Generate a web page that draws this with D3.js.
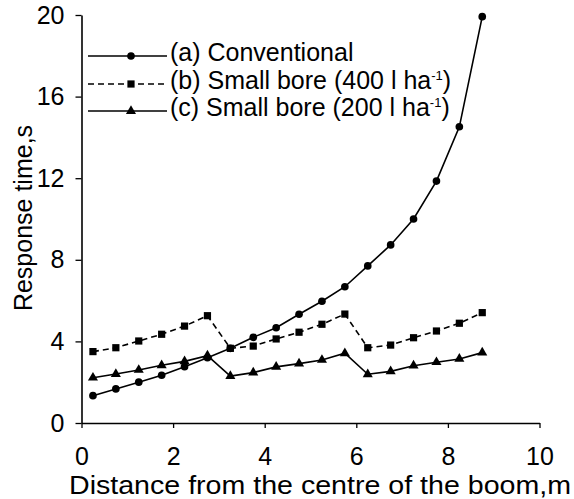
<!DOCTYPE html>
<html>
<head>
<meta charset="utf-8">
<script src="https://cdn.jsdelivr.net/npm/d3@7"></script>
<style>
  html, body { margin: 0; padding: 0; background: #fff; }
  svg { display: block; }
  text { font-family: "Liberation Sans", Arial, Helvetica, sans-serif; fill: #000; }
</style>
</head>
<body>
<svg id="chart" width="574" height="499"></svg>
<script>
// ---- data ----
const distances = [0.25, 0.75, 1.25, 1.75, 2.25, 2.75, 3.25, 3.75, 4.25, 4.75, 5.25, 5.75, 6.25, 6.75, 7.25, 7.75, 8.25, 8.75];
const conventional = [1.34, 1.67, 2.0, 2.34, 2.76, 3.2, 3.66, 4.2, 4.67, 5.33, 5.97, 6.68, 7.70, 8.73, 10.0, 11.86, 14.52, 19.92];
const smallBore400 = [3.5, 3.69, 4.02, 4.35, 4.75, 5.26, 3.66, 3.77, 4.12, 4.45, 4.84, 5.34, 3.69, 3.82, 4.18, 4.51, 4.89, 5.41];
const smallBore200 = [2.22, 2.40, 2.60, 2.83, 3.02, 3.30, 2.30, 2.47, 2.75, 2.91, 3.09, 3.42, 2.39, 2.53, 2.81, 2.98, 3.14, 3.45];
const xTicks = [0, 2, 4, 6, 8, 10];
const yTicks = [0, 4, 8, 12, 16, 20];
const seriesNames = ["(a) Conventional", "(b) Small bore (400 l ha", "(c) Small bore (200 l ha"];
const xLabel = "Distance from the centre of the boom,m";
const yLabel = "Response time,s";

const series = [
  { name: seriesNames[0], values: conventional, symbol: d3.symbolCircle, size: 46, dash: null, sup: false },
  { name: seriesNames[1], values: smallBore400, symbol: d3.symbolSquare, size: 52, dash: "6,4", sup: true },
  { name: seriesNames[2], values: smallBore200, symbol: d3.symbolTriangle, size: 44, dash: null, sup: true }
];

const svg = d3.select("#chart");
const x = d3.scaleLinear().domain([0, 10]).range([81.5, 539.5]);
const y = d3.scaleLinear().domain([0, 20]).range([423, 15]);

// axes
const xAxis = svg.append("g").attr("transform", "translate(0,423)")
  .call(d3.axisBottom(x).tickValues(xTicks).tickSize(5).tickSizeOuter(0).tickPadding(19));
const yAxis = svg.append("g").attr("transform", "translate(81.5,0)")
  .call(d3.axisLeft(y).tickValues(yTicks).tickSize(6).tickSizeOuter(0).tickPadding(11));
[xAxis, yAxis].forEach(g => {
  g.selectAll("path.domain").attr("stroke", "#000").attr("stroke-width", 1.6);
  g.selectAll(".tick line").attr("stroke", "#000").attr("stroke-width", 1.3);
  g.selectAll(".tick text").style("font-size", "25px").attr("fill", "#000")
    .style("font-family", '"Liberation Sans", Arial, sans-serif');
});

// axis titles
svg.append("text")
  .attr("x", 69).attr("y", 494)
  .attr("textLength", 502).attr("lengthAdjust", "spacingAndGlyphs")
  .style("font-size", "25px")
  .text(xLabel);
svg.append("text")
  .attr("transform", "translate(32,218) rotate(-90)")
  .attr("text-anchor", "middle")
  .style("font-size", "25px")
  .text(yLabel);

// series
const line = d3.line().x((d, i) => x(distances[i])).y(d => y(d));
series.forEach(s => {
  svg.append("path")
    .datum(s.values)
    .attr("d", line)
    .attr("fill", "none")
    .attr("stroke", "#000")
    .attr("stroke-width", 1.6)
    .attr("stroke-dasharray", s.dash);
  svg.selectAll(null)
    .data(s.values)
    .enter().append("path")
    .attr("d", d3.symbol().type(s.symbol).size(s.size))
    .attr("transform", (d, i) => `translate(${x(distances[i])},${y(d)})`)
    .attr("fill", "#000");
});

// legend
const legendY = [56, 84, 111];
series.forEach((s, i) => {
  const g = svg.append("g").attr("transform", `translate(0,${legendY[i]})`);
  g.append("line").attr("x1", 88).attr("x2", 167).attr("y1", 0).attr("y2", 0)
    .attr("stroke", "#000").attr("stroke-width", 1.6).attr("stroke-dasharray", s.dash);
  g.append("path").attr("d", d3.symbol().type(s.symbol).size(s.size))
    .attr("transform", "translate(131,0)").attr("fill", "#000");
  const t = g.append("text").attr("x", 170).attr("y", 5).style("font-size", "25px");
  t.append("tspan").text(s.name);
  if (s.sup) {
    t.append("tspan").attr("dy", -9).style("font-size", "13px").text("-1");
    t.append("tspan").attr("dy", 9).text(")");
  }
});
</script>
</body>
</html>
